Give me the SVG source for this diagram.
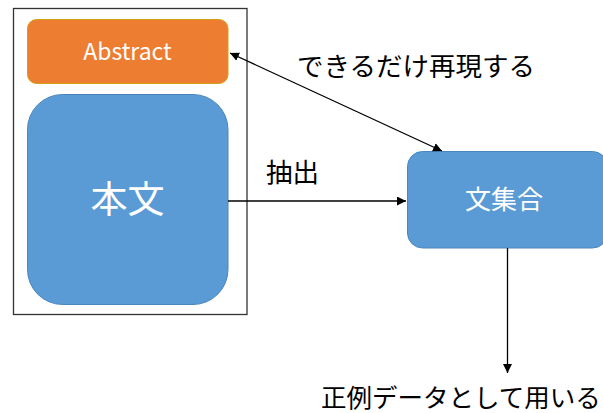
<svg xmlns="http://www.w3.org/2000/svg" width="603" height="413" viewBox="0 0 603 413">
<defs>
<style>
.t{font-family:"Noto Sans CJK JP","Noto Sans",sans-serif;}
.w{fill:#fff;}
.k{fill:#000;}
.c{stroke:#000;stroke-width:1.3;fill:none;}
</style>
<marker id="ah" viewBox="0 0 10 10" refX="10" refY="5" markerWidth="9" markerHeight="9" markerUnits="userSpaceOnUse" orient="auto-start-reverse">
<path d="M0,0 L10,5 L0,10 z" fill="#000"/>
</marker>
</defs>
<rect width="603" height="413" fill="#fff"/>
<g id="frame"><rect x="13.5" y="8.5" width="233.5" height="306" fill="none" stroke="#333" stroke-width="1.3"/></g>
<g id="abstract">
<rect x="27.5" y="19.5" width="200.5" height="64" rx="9" fill="#ED7D31" stroke="#D4A017" stroke-width="1"/>
<text class="t w" x="127.5" y="60" font-size="23" text-anchor="middle">Abstract</text>
</g>
<g id="honbun">
<rect x="27.5" y="94.5" width="200.5" height="210" rx="35" fill="#5B9BD5" stroke="#4A86BE" stroke-width="1"/>
<text class="t w" x="127.5" y="213" font-size="37" text-anchor="middle">本文</text>
</g>
<g id="bunshugo">
<rect x="407.5" y="151.5" width="200" height="96.5" rx="15" fill="#5B9BD5" stroke="#4A86BE" stroke-width="1"/>
<text class="t w" x="504" y="209" font-size="26" text-anchor="middle">文集合</text>
</g>
<g id="connectors">
<line class="c" x1="230" y1="53" x2="442" y2="151" marker-start="url(#ah)" marker-end="url(#ah)"/>
<line class="c" x1="228" y1="201" x2="406" y2="201" marker-end="url(#ah)"/>
<line class="c" x1="507.5" y1="248" x2="507.5" y2="373" marker-end="url(#ah)"/>
</g>
<g id="labels">
<text class="t k" x="297" y="76" font-size="26.5">できるだけ再現する</text>
<text class="t k" x="266" y="182" font-size="26.5">抽出</text>
<text class="t k" x="321" y="407" font-size="25.5">正例データとして用いる</text>
</g>
</svg>
